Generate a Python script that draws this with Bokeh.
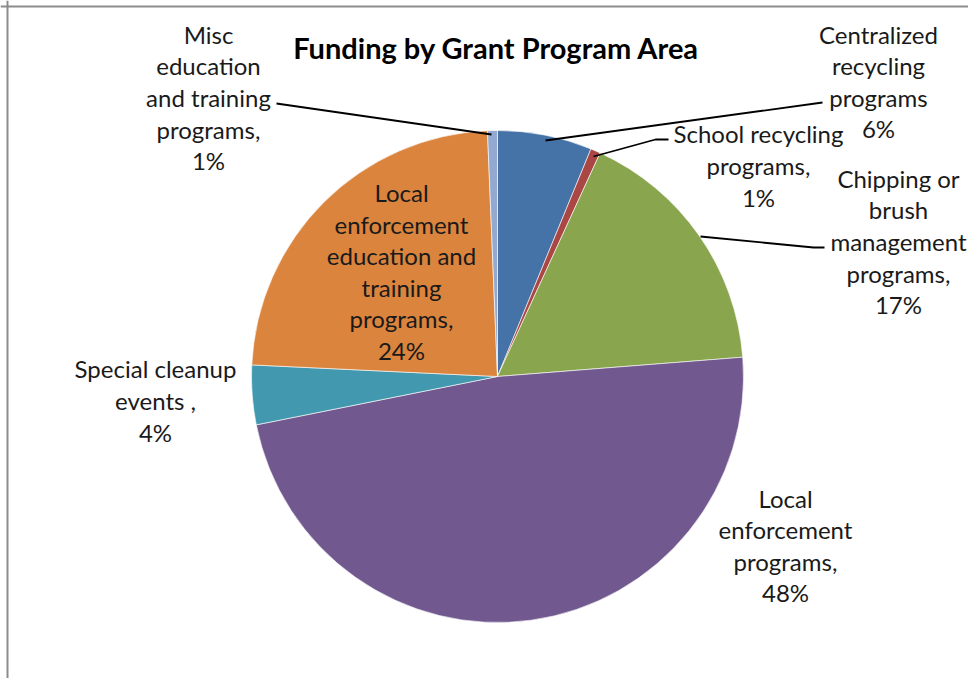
import math
from bokeh.plotting import figure
from bokeh.models import Range1d, Span, ColumnDataSource
from bokeh.core.properties import value
from bokeh.embed import file_html
from bokeh.resources import INLINE

# ---- data ----
categories = [
    "Centralized recycling programs",
    "School recycling programs",
    "Chipping or brush management programs",
    "Local enforcement programs",
    "Special cleanup events",
    "Local enforcement education and training programs",
    "Misc education and training programs",
]
shares = [6.2, 0.65, 16.9, 48.1, 3.9, 23.6, 0.65]
shown_pct = ["6%", "1%", "17%", "48%", "4%", "24%", "1%"]
label_lines = [
    ["Centralized", "recycling", "programs"],
    ["School recycling", "programs,"],
    ["Chipping or", "brush", "management", "programs,"],
    ["Local", "enforcement", "programs,"],
    ["Special cleanup", "events ,"],
    ["Local", "enforcement", "education and", "training", "programs,"],
    ["Misc", "education", "and training", "programs,"],
]
colors = ["#4572A7", "#AA4643", "#89A54E", "#71588F", "#4198AF", "#DB843D", "#93A9CF"]
title_text = "Funding by Grant Program Area"

# ---- layout (screen pixel positions in the page) ----
W, H = 968, 678
OX, OY = 0, 0


def dx(sx):
    return sx - OX


def dy(sy):
    return (OY + H) - sy


center = (497, 376)
radius = 246
label_pos = [(878, 81), (758, 165), (898, 241), (785, 545), (155, 400), (401, 271), (208, 97)]
leaders = [
    [(545, 140), (822, 102)],
    [(593, 156), (655, 139), (668, 139)],
    [(700, 236), (813, 247), (824, 247)],
    None,
    None,
    None,
    [(491, 134), (276, 103)],
]

p = figure(width=W, height=H, output_backend="svg", toolbar_location=None,
           x_range=Range1d(0, W), y_range=Range1d(0, H), min_border=0,
           outline_line_color=None)
p.xaxis.visible = False
p.yaxis.visible = False
p.grid.visible = False
p.background_fill_color = "white"
p.border_fill_color = "white"

# pie slices: clockwise from 12 o'clock
total = sum(shares)
starts, ends = [], []
cum = 0.0
for s in shares:
    a0 = math.pi / 2 - 2 * math.pi * cum / total
    cum += s
    a1 = math.pi / 2 - 2 * math.pi * cum / total
    starts.append(a0)
    ends.append(a1)

src = ColumnDataSource(dict(x=[dx(center[0])] * len(shares), y=[dy(center[1])] * len(shares),
                            start=starts, end=ends, color=colors, name=categories))
p.wedge(x="x", y="y", radius=radius, start_angle="start", end_angle="end",
        direction="clock", fill_color="color", line_color="white", line_width=0.6,
        source=src)

# leader lines
for pts in leaders:
    if pts:
        p.line([dx(a) for a, b in pts], [dy(b) for a, b in pts], line_color="black", line_width=1.8)

# labels
texts = ["\n".join(lines + [pct]) for lines, pct in zip(label_lines, shown_pct)]
p.text(x=[dx(a) for a, b in label_pos], y=[dy(b) for a, b in label_pos], text=texts,
       text_font=value("Lato"), text_font_size="24px", text_color="#1a1a1a",
       text_align="center", text_baseline="middle", text_line_height=1.09)

# title
p.text(x=[dx(496)], y=[dy(47)], text=[title_text], text_font=value("Lato"),
       text_font_size="29px", text_font_style="bold", text_color="#000000",
       text_align="center", text_baseline="middle")

# chart-area frame (left and top edges visible in the reference)
p.add_layout(Span(location=dx(7), dimension="height", line_color="#8c8c8c", line_width=2))
p.add_layout(Span(location=dy(6), dimension="width", line_color="#8c8c8c", line_width=2))

open("out.html", "w").write(file_html(p, INLINE))
